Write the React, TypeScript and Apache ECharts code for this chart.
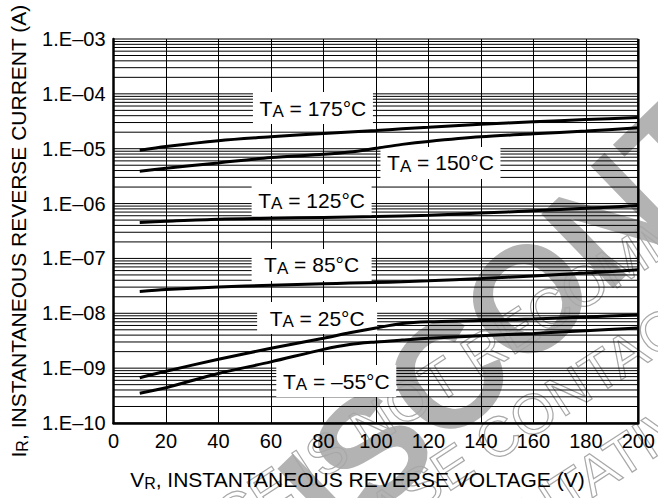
import React, { useEffect, useRef } from "react";
import * as echarts from "echarts";

// ---- data ----
const voltage = [10, 20, 40, 60, 80, 90, 100, 110, 120, 140, 160, 180, 200];
const t175 = [9.4e-6, 1.1e-5, 1.4e-5, 1.65e-5, 1.9e-5, 2.02e-5, 2.15e-5, 2.3e-5, 2.45e-5, 2.8e-5, 3.1e-5, 3.4e-5, 3.7e-5];
const t150 = [3.9e-6, 4.4e-6, 5.5e-6, 6.9e-6, 7.9e-6, 8.7e-6, 1.02e-5, 1.2e-5, 1.36e-5, 1.65e-5, 1.87e-5, 2.1e-5, 2.4e-5];
const t125 = [4.5e-7, 4.75e-7, 5.2e-7, 5.4e-7, 5.6e-7, 5.7e-7, 5.8e-7, 5.95e-7, 6.1e-7, 6.7e-7, 7.4e-7, 8.2e-7, 9.2e-7];
const t85 = [2.5e-8, 2.7e-8, 3.0e-8, 3.25e-8, 3.45e-8, 3.55e-8, 3.65e-8, 3.75e-8, 3.9e-8, 4.3e-8, 4.8e-8, 5.4e-8, 6.2e-8];
const t25 = [6.7e-10, 8.8e-10, 1.45e-9, 2.3e-9, 3.5e-9, 4.4e-9, 5.4e-9, 6.5e-9, 7.0e-9, 7.4e-9, 7.9e-9, 8.6e-9, 9.3e-9];
const tm55 = [3.5e-10, 4.4e-10, 8.0e-10, 1.3e-9, 2.2e-9, 2.7e-9, 3.0e-9, 3.25e-9, 3.5e-9, 3.9e-9, 4.3e-9, 4.8e-9, 5.4e-9];

const seriesTemps = ["175", "150", "125", "85", "25", "–55"];
const seriesValues = [t175, t150, t125, t85, t25, tm55];

// label anchor points in data space (V, A)
const labelTemps = ["175", "150", "125", "85", "25", "–55"];
const labelV = [76, 124.6, 75.5, 75.5, 77.6, 84.9];
const labelI = [5.5e-5, 5.5e-6, 1.16e-6, 7.6e-8, 8.2e-9, 5.8e-10];

const xTicks = [0, 20, 40, 60, 80, 100, 120, 140, 160, 180, 200];
const decadeExponents = [-10, -9, -8, -7, -6, -5, -4, -3];
const yTickLabels = ["1.E–10", "1.E–09", "1.E–08", "1.E–07", "1.E–06", "1.E–05", "1.E–04", "1.E–03"];

const FONT = "'Liberation Sans', Arial, Helvetica, sans-serif";

export default function App() {
  const ref = useRef<HTMLDivElement>(null);

  useEffect(() => {
    if (!ref.current) return;
    const chart = echarts.init(ref.current, undefined, { renderer: "svg" });

    // log grid line positions (1..9 per decade)
    const gridValues: number[] = [];
    for (let i = 0; i < decadeExponents.length - 1; i++) {
      for (let m = 1; m <= 9; m++) gridValues.push(m * Math.pow(10, decadeExponents[i]));
    }
    gridValues.push(Math.pow(10, decadeExponents[decadeExponents.length - 1]));

    const xMin = xTicks[0];
    const xMax = xTicks[xTicks.length - 1];

    const gridSeries = gridValues.map((v) => ({
      type: "line",
      data: [
        [xMin, v],
        [xMax, v],
      ],
      symbol: "none",
      showSymbol: false,
      z: 1,
      silent: true,
      clip: false,
      lineStyle: { color: "#000", width: 1 },
    }));

    const rightBorder = {
      type: "line",
      data: [
        [xMax, Math.pow(10, decadeExponents[0])],
        [xMax, Math.pow(10, decadeExponents[decadeExponents.length - 1])],
      ],
      symbol: "none",
      showSymbol: false,
      z: 4,
      silent: true,
      clip: false,
      lineStyle: { color: "#000", width: 2.5 },
    };

    const curveSeries = seriesValues.map((vals, i) => ({
      type: "line",
      name: seriesTemps[i],
      data: voltage.map((v, j) => [v, vals[j]]),
      smooth: 0.3,
      symbol: "none",
      showSymbol: false,
      z: 5,
      lineStyle: { color: "#000", width: 3 },
      silent: true,
    }));

    const outline = {
      fontSize: 56,
      fontFamily: FONT,
      fill: "rgba(0,0,0,0)",
      stroke: "#a8a8a8",
      lineWidth: 1.2,
      textAlign: "left",
      textVerticalAlign: "middle",
    };

    const option: any = {
      animation: false,
      backgroundColor: "#fff",
      grid: { left: 101, right: 8, top: 39, bottom: 75, containLabel: false },
      xAxis: {
        type: "value",
        min: xMin,
        max: xMax,
        interval: 20,
        axisLine: { show: true, onZero: false, lineStyle: { color: "#000", width: 2.5 } },
        axisTick: { show: false },
        axisLabel: {
          color: "#000",
          fontSize: 20,
          fontFamily: FONT,
          margin: 8,
          formatter: (v: number) => (xTicks.includes(v) ? String(v) : ""),
        },
        splitLine: { show: true, lineStyle: { color: "#000", width: 1 } },
        name: "V{s|R}, INSTANTANEOUS REVERSE VOLTAGE (V)",
        nameLocation: "middle",
        nameGap: 44,
        nameTextStyle: {
          color: "#000",
          fontSize: 21,
          fontFamily: FONT,
          padding: [0, 37, 0, 0],
          rich: { s: { fontSize: 16, fontFamily: FONT, color: "#000", padding: [8, 0, 0, 0] } },
        },
      },
      yAxis: {
        type: "log",
        logBase: 10,
        min: 1e-10,
        max: 1e-3,
        splitNumber: 7,
        axisLine: { show: true, onZero: false, lineStyle: { color: "#000", width: 2.5 } },
        axisTick: { show: false },
        splitLine: { show: false },
        axisLabel: {
          color: "#000",
          fontSize: 20,
          fontFamily: FONT,
          margin: 8,
          formatter: (v: number) => {
            const e = Math.round(Math.log10(v));
            const idx = decadeExponents.indexOf(e);
            return idx >= 0 ? yTickLabels[idx] : "";
          },
        },
        name: "I{s|R}, INSTANTANEOUS REVERSE CURRENT (A)",
        nameLocation: "middle",
        nameGap: 83,
        nameRotate: 90,
        nameTextStyle: {
          color: "#000",
          fontSize: 21,
          fontFamily: FONT,
          rich: { s: { fontSize: 16, fontFamily: FONT, color: "#000", padding: [8, 0, 0, 0] } },
        },
      },
      graphic: {
        elements: [
          {
            type: "text",
            x: 228,
            y: 588,
            rotation: (44 * Math.PI) / 180,
            z: -10,
            silent: true,
            style: {
              text: "DISCONTINUED",
              fontSize: 150,
              fontWeight: "bold",
              fontFamily: FONT,
              fill: "#b3b3b3",
              textAlign: "left",
              textVerticalAlign: "middle",
            },
          },
          {
            type: "text",
            x: -10,
            y: 672,
            rotation: (33 * Math.PI) / 180,
            z: -10,
            silent: true,
            style: { ...outline, text: "THIS DEVICE IS NOT RECOMMENDED FOR NEW DESIGN" },
          },
          {
            type: "text",
            x: 285,
            y: 575,
            rotation: (33 * Math.PI) / 180,
            z: -10,
            silent: true,
            style: { ...outline, text: "PLEASE CONTACT YOUR" },
          },
          {
            type: "text",
            x: 298,
            y: 666,
            rotation: (33 * Math.PI) / 180,
            z: -10,
            silent: true,
            style: { ...outline, text: "REPRESENTATIVE FOR INFORMATION" },
          },
        ],
      },
      series: [
        ...gridSeries,
        {
          type: "line",
          name: "labels",
          data: [[xMin, 1e-3]],
          symbol: "none",
          showSymbol: false,
          z: 3,
          silent: true,
          markPoint: {
            silent: true,
            symbol: "rect",
            symbolSize: [1, 1],
            itemStyle: { color: "rgba(0,0,0,0)" },
            label: {
              show: true,
              position: "inside",
              backgroundColor: "#fff",
              padding: [4, 7, 4, 7],
              width: 106,
              align: "center",
              rich: {
                t: { fontSize: 21, fontFamily: FONT, color: "#000" },
                s: { fontSize: 17, fontFamily: FONT, color: "#000", padding: [7, 0, 0, 0] },
              },
            },
            data: labelTemps.map((t, i) => ({
              coord: [labelV[i], labelI[i]],
              label: { formatter: `{t|T}{s|A}{t| = ${t}°C}` },
            })),
          },
        },
        rightBorder,
        ...curveSeries,
      ],
    };

    chart.setOption(option);
    return () => chart.dispose();
  }, []);

  return (
    <div
      ref={ref}
      style={{ position: "absolute", left: 0, top: 0, width: 658, height: 498 }}
    />
  );
}
